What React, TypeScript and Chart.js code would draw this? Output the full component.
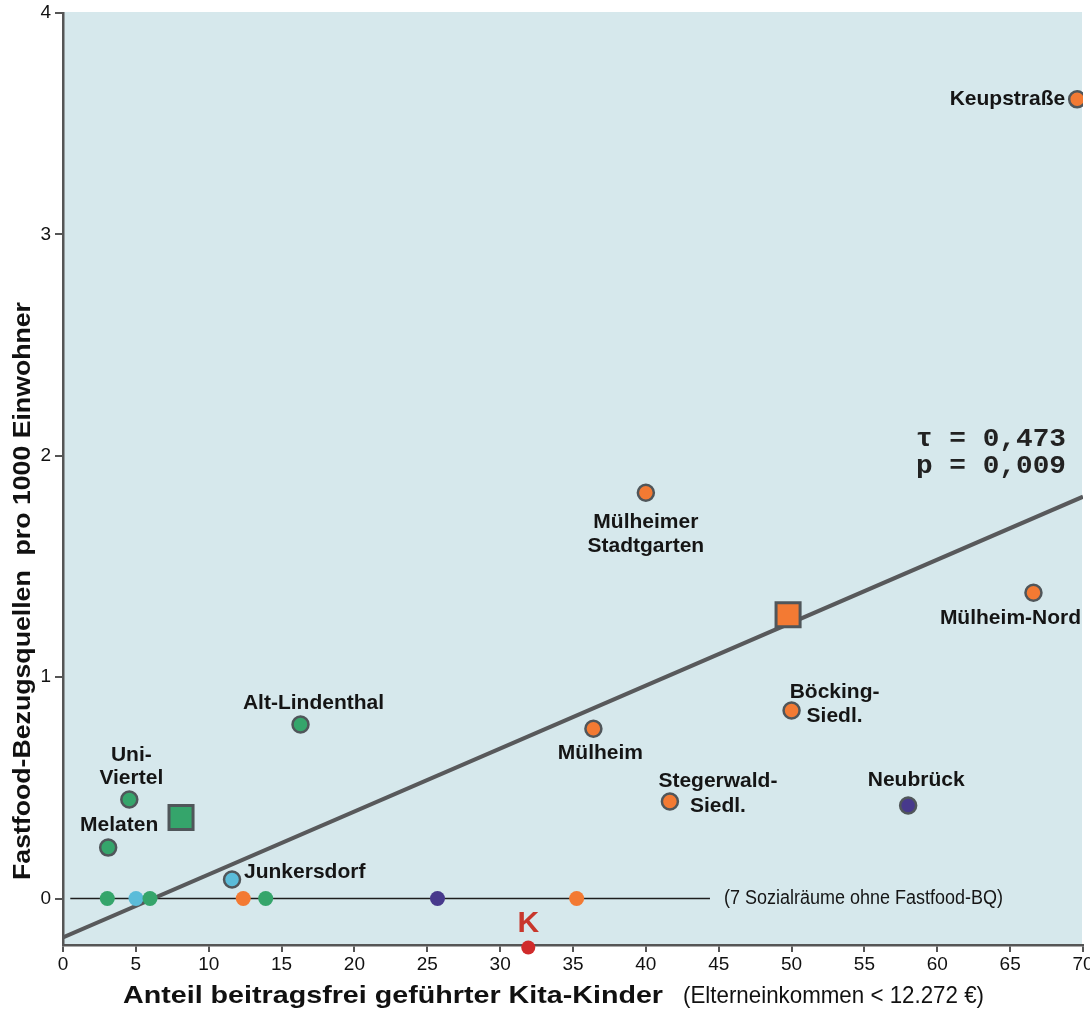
import React, { useEffect, useRef } from "react";
import { Chart, registerables } from "chart.js";

Chart.register(...registerables);

// ---------- data ----------
const xTicks = [0, 5, 10, 15, 20, 25, 30, 35, 40, 45, 50, 55, 60, 65, 70];
const yTicks = [0, 1, 2, 3, 4];

const districtNames = [
  "Keupstraße",
  "Mülheimer\nStadtgarten",
  "Mülheim-Nord",
  "Böcking-\nSiedl.",
  "Mülheim",
  "Stegerwald-\nSiedl.",
  "Neubrück",
  "Alt-Lindenthal",
  "Uni-\nViertel",
  "Melaten",
  "Junkersdorf",
];
const districtX = [69.6, 40.0, 66.6, 50.0, 36.4, 41.65, 58.0, 16.3, 4.55, 3.1, 11.6];
const districtY = [3.61, 1.833, 1.381, 0.849, 0.767, 0.438, 0.42, 0.786, 0.447, 0.23, 0.086];
const districtGroup = ["mh", "mh", "mh", "mh", "mh", "mh", "kalk", "li", "li", "li", "ra"];

const meanX = [8.1, 49.76];
const meanY = [0.366, 1.282];
const meanGroup = ["li", "mh"];

const zeroX = [3.04, 5.01, 5.97, 12.37, 13.91, 25.7, 35.25];
const zeroY = [0, 0, 0, 0, 0, 0, 0];
const zeroGroup = ["li", "ra", "li", "mh", "li", "kalk", "mh"];

const cityX = [31.93];
const cityY = [-0.221];
const cityLabel = "K";

const regressionX = [0, 70];
const regressionY = [-0.176, 1.815];

const zeroLineX = [0.5, 44.4];
const zeroLineLabel = "(7 Sozialräume ohne Fastfood-BQ)";

const statsLines = ["τ = 0,473", "p = 0,009"];

const xTitleBold = "Anteil beitragsfrei geführter Kita-Kinder";
const xTitleNormal = "(Elterneinkommen < 12.272 €)";
const yTitle = "Fastfood-Bezugsquellen  pro 1000 Einwohner";

// ---------- styles / layout ----------
const groupColor: Record<string, string> = {
  mh: "#f37a33",
  li: "#35a56b",
  ra: "#5bbcd9",
  kalk: "#47398c",
};
const cityColor = "#d02b2b";
const markerBorder = "#50565a";
const SANS = "'Liberation Sans', Arial, sans-serif";

// label placement in pixels relative to the point (center of first line)
const labelLayout = [
  { dx: -12, dy: 0, align: "right", lh: 24 },
  { dx: 0, dy: 29, align: "center", lh: 24 },
  { dx: -23, dy: 25, align: "center", lh: 24 },
  { dx: 43, dy: -18, align: "center", lh: 24 },
  { dx: 7, dy: 24, align: "center", lh: 24 },
  { dx: 48, dy: -20, align: "center", lh: 25 },
  { dx: 8, dy: -25, align: "center", lh: 24 },
  { dx: 13, dy: -21, align: "center", lh: 24 },
  { dx: 2, dy: -44, align: "center", lh: 23 },
  { dx: 11, dy: -22, align: "center", lh: 24 },
  { dx: 12, dy: -7, align: "left", lh: 24 },
];

function drawText(
  ctx: CanvasRenderingContext2D,
  text: string,
  x: number,
  y: number,
  font: string,
  color: string,
  align: string,
  width?: number
) {
  ctx.save();
  ctx.font = font;
  ctx.fillStyle = color;
  ctx.textBaseline = "middle";
  ctx.textAlign = "left";
  const w = ctx.measureText(text).width;
  const sx = width ? width / w : 1;
  const dw = w * sx;
  const left = align === "left" ? x : align === "center" ? x - dw / 2 : x - dw;
  ctx.translate(left, y);
  ctx.scale(sx, 1);
  ctx.fillText(text, 0, 0);
  ctx.restore();
}

const bgPlugin = {
  id: "bgPlugin",
  beforeDraw(chart: any) {
    const { ctx, chartArea } = chart;
    ctx.save();
    ctx.fillStyle = "#ffffff";
    ctx.fillRect(0, 0, chart.width, chart.height);
    ctx.fillStyle = "#d6e8ec";
    ctx.fillRect(chartArea.left, chartArea.top - 1, chartArea.right - chartArea.left - 1, chartArea.bottom - chartArea.top + 1);
    ctx.restore();
  },
};

const textPlugin = {
  id: "textPlugin",
  afterDraw(chart: any) {
    const { ctx, chartArea } = chart;
    const xs = chart.scales.x;
    const ys = chart.scales.y;

    // tick labels
    xTicks.forEach((v) => {
      drawText(ctx, String(v), xs.getPixelForValue(v), chartArea.bottom + 20, `19px ${SANS}`, "#111111", "center");
    });
    yTicks.forEach((v) => {
      drawText(ctx, String(v), chartArea.left - 12, ys.getPixelForValue(v), `19px ${SANS}`, "#111111", "right");
    });

    // district labels
    districtNames.forEach((name, i) => {
      const px = xs.getPixelForValue(districtX[i]);
      const py = ys.getPixelForValue(districtY[i]);
      const l = labelLayout[i];
      name.split("\n").forEach((line, j) => {
        drawText(ctx, line, px + l.dx, py + l.dy + j * l.lh, `bold 21px ${SANS}`, "#151515", l.align);
      });
    });

    // zero-line note
    drawText(
      ctx,
      zeroLineLabel,
      xs.getPixelForValue(zeroLineX[1]) + 14,
      ys.getPixelForValue(0),
      `20px ${SANS}`,
      "#151515",
      "left",
      279
    );

    // city K
    drawText(
      ctx,
      cityLabel,
      xs.getPixelForValue(cityX[0]),
      ys.getPixelForValue(cityY[0]) - 24,
      `bold 30px ${SANS}`,
      "#c8372c",
      "center"
    );

    // stats
    statsLines.forEach((s, i) => {
      drawText(
        ctx,
        s,
        chartArea.right - 17,
        ys.getPixelForValue(2) - 16 + i * 27,
        `bold 26px 'Liberation Mono', 'Courier New', monospace`,
        "#222222",
        "right",
        150
      );
    });

    // x title
    drawText(ctx, xTitleBold, 123, 996, `bold 24px ${SANS}`, "#111111", "left", 540);
    drawText(ctx, xTitleNormal, 683, 996, `24px ${SANS}`, "#111111", "left", 301);

    // y title
    ctx.save();
    ctx.translate(23, 591);
    ctx.rotate(-Math.PI / 2);
    drawText(ctx, yTitle, 0, 0, `bold 24px ${SANS}`, "#111111", "center", 578);
    ctx.restore();
  },
};

export default function App() {
  const ref = useRef<HTMLCanvasElement | null>(null);

  useEffect(() => {
    if (!ref.current) return;
    const chart = new Chart(ref.current, {
      type: "scatter",
      data: {
        datasets: [
          {
            type: "scatter",
            data: districtX.map((x, i) => ({ x, y: districtY[i] })),
            backgroundColor: districtGroup.map((g) => groupColor[g]),
            borderColor: markerBorder,
            borderWidth: 2.5,
            pointRadius: 8,
            order: 1,
          },
          {
            type: "scatter",
            data: meanX.map((x, i) => ({ x, y: meanY[i] })),
            backgroundColor: meanGroup.map((g) => groupColor[g]),
            borderColor: markerBorder,
            borderWidth: 3,
            pointStyle: "rect",
            pointRadius: 17,
            order: 0,
          },
          {
            type: "scatter",
            data: zeroX.map((x, i) => ({ x, y: zeroY[i] })),
            backgroundColor: zeroGroup.map((g) => groupColor[g]),
            borderWidth: 0,
            pointRadius: 7.5,
            order: 2,
          },
          {
            type: "scatter",
            data: cityX.map((x, i) => ({ x, y: cityY[i] })),
            backgroundColor: cityColor,
            borderWidth: 0,
            pointRadius: 7,
            clip: false as any,
            order: 2,
          },
          {
            type: "line",
            data: regressionX.map((x, i) => ({ x, y: regressionY[i] })),
            borderColor: "#58595b",
            borderWidth: 4,
            pointRadius: 0,
            fill: false,
            order: 5,
          },
          {
            type: "line",
            data: zeroLineX.map((x) => ({ x, y: 0 })),
            borderColor: "#1e1e1e",
            borderWidth: 1.6,
            pointRadius: 0,
            fill: false,
            order: 6,
          },
        ],
      },
      options: {
        responsive: false,
        animation: false,
        events: [],
        layout: { autoPadding: false, padding: { left: 0, top: 13, right: 7, bottom: 0 } },
        plugins: {
          legend: { display: false },
          tooltip: { enabled: false },
          title: { display: false },
        },
        scales: {
          x: {
            type: "linear",
            min: 0,
            max: 70,
            afterBuildTicks: (s: any) => {
              s.ticks = xTicks.map((v) => ({ value: v }));
            },
            afterFit: (s: any) => {
              s.height = 68;
              s.paddingLeft = 0;
              s.paddingRight = 0;
            },
            ticks: { display: false, autoSkip: false },
            grid: {
              display: true,
              drawOnChartArea: false,
              drawTicks: true,
              tickLength: 7,
              color: "#555555",
              lineWidth: 2,
            },
            border: { display: true, color: "#555555", width: 2.5 },
          },
          y: {
            type: "linear",
            min: -0.21,
            max: 4,
            afterBuildTicks: (s: any) => {
              s.ticks = yTicks.map((v) => ({ value: v }));
            },
            afterFit: (s: any) => {
              s.width = 63;
              s.paddingTop = 0;
              s.paddingBottom = 0;
            },
            ticks: { display: false, autoSkip: false },
            grid: {
              display: true,
              drawOnChartArea: false,
              drawTicks: true,
              tickLength: 8,
              color: "#555555",
              lineWidth: 2,
            },
            border: { display: true, color: "#555555", width: 2.5 },
          },
        },
      } as any,
      plugins: [bgPlugin, textPlugin],
    });
    return () => chart.destroy();
  }, []);

  return (
    <div style={{ position: "absolute", left: 0, top: 0, width: 1090, height: 1013 }}>
      <canvas ref={ref} width={1090} height={1013} style={{ width: 1090, height: 1013, display: "block" }} />
    </div>
  );
}
